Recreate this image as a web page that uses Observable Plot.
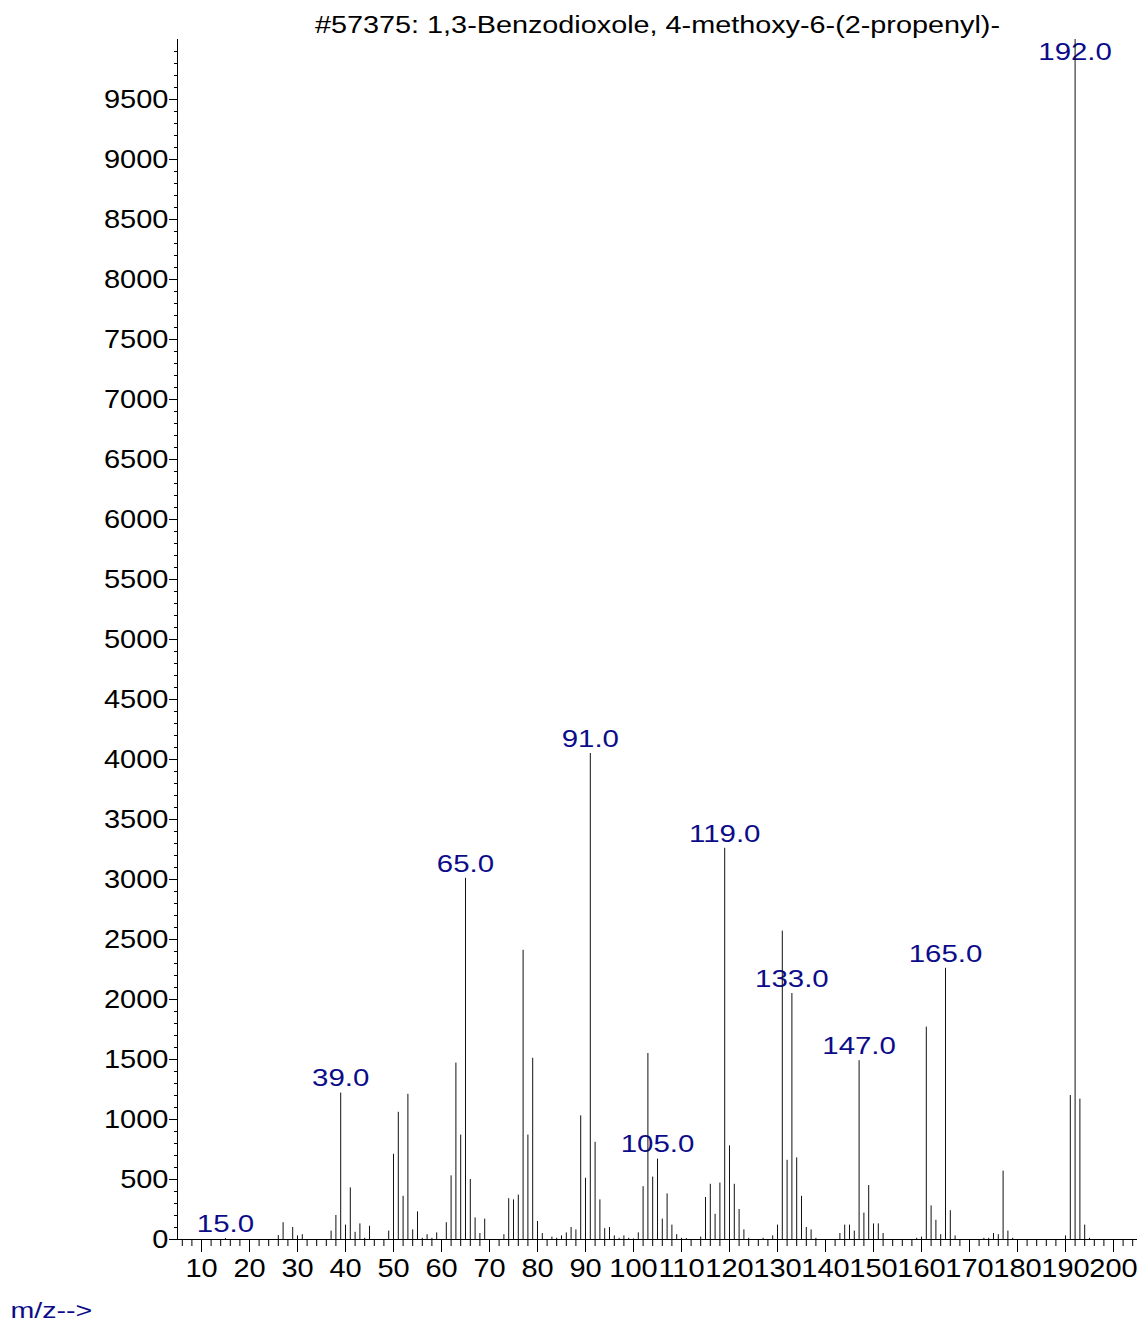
<!DOCTYPE html>
<html><head><meta charset="utf-8">
<script src="https://cdn.jsdelivr.net/npm/d3@7"></script>
<script src="https://cdn.jsdelivr.net/npm/@observablehq/plot@0.6"></script>
<style>body{margin:0;background:#fff}</style>
</head><body><div id="chart"></div>
<script>
const title = "#57375: 1,3-Benzodioxole, 4-methoxy-6-(2-propenyl)-";
const xLabel = "m/z-->";
const mzValues = [15,26,27,29,30,31,37,38,39,40,41,42,43,44,45,49,50,51,52,53,54,55,56,57,58,59,61,62,63,64,65,66,67,68,69,73,74,75,76,77,78,79,80,81,83,84,85,86,87,88,89,90,91,92,93,94,95,96,97,98,99,100,101,102,103,104,105,106,107,108,109,110,111,114,115,116,117,118,119,120,121,122,123,124,127,129,130,131,132,133,134,135,136,137,138,143,144,145,146,147,148,149,150,151,152,159,160,161,162,163,164,165,166,167,173,174,175,176,177,178,179,190,191,192,193,194,195];
const abundances = [8,33,140,100,30,40,70,200,1220,120,430,60,130,10,110,70,710,1060,360,1210,80,230,10,40,10,55,140,530,1470,870,3010,500,180,50,170,40,340,330,370,2410,870,1510,150,50,20,10,30,55,100,80,1030,510,4050,810,330,90,100,30,10,30,10,5,55,440,1550,520,670,170,380,120,40,10,8,20,350,460,210,470,3260,780,460,250,80,10,10,30,120,2570,660,2050,680,360,100,80,10,50,120,120,70,1490,220,450,130,130,50,10,20,1770,280,160,40,2260,240,30,10,10,50,40,570,70,10,30,1200,10000,1170,120,10];
const labeledMz = [15,39,65,91,105,119,133,147,165,192];
const xMajorTicks = [10,20,30,40,50,60,70,80,90,100,110,120,130,140,150,160,170,180,190,200];
const xMinorTicks = d3.range(6, 205, 2);
const yMajorTicks = [0,500,1000,1500,2000,2500,3000,3500,4000,4500,5000,5500,6000,6500,7000,7500,8000,8500,9000,9500];
const yMinorTicks = d3.range(0, 10000, 100);

const peaks = mzValues.map((m, i) => ({mz: m, abundance: abundances[i]}));
const labelled = peaks.filter(d => labeledMz.includes(d.mz));
const navy = "#0c0c8a";

const chart = Plot.plot({
  width: 1143, height: 1324,
  marginTop: 39, marginBottom: 85, marginLeft: 177, marginRight: 6,
  style: {fontFamily: "'Liberation Sans', Arial, sans-serif", fontSize: "24px", background: "#fff", color: "#000"},
  x: {domain: [5, 205]},
  y: {domain: [0, 10000]},
  marks: [
    Plot.axisX({ticks: xMinorTicks, tickSize: 7, tickFormat: () => "", label: null}),
    Plot.axisX({ticks: xMajorTicks, tickSize: 13, tickPadding: 7, tickFormat: d => String(d), label: null, fontSize: 25, fill: "#000"}),
    Plot.axisY({ticks: yMinorTicks, tickSize: 3, tickFormat: () => "", label: null}),
    Plot.axisY({ticks: yMajorTicks, tickSize: 8, tickPadding: 1, tickFormat: d => String(d), label: null, fontSize: 25, fill: "#000"}),
    Plot.ruleX([5], {stroke: "#000"}),
    Plot.ruleY([0], {stroke: "#000"}),
    Plot.text(labelled, {x: "mz", y: d => Math.min(d.abundance, 9770), text: d => d.mz.toFixed(1), dy: -14, lineAnchor: "middle", fill: navy, fontSize: 23, ariaLabel: () => "peak label"}),
    Plot.ruleX(peaks, {x: "mz", y1: 0, y2: "abundance", stroke: "#111", strokeWidth: 1}),
    Plot.text([title], {text: d => d, frameAnchor: "top", dy: -14, lineAnchor: "middle", fontSize: 24, fill: "#000", ariaLabel: () => "title"}),
    Plot.text([xLabel], {text: d => d, frameAnchor: "bottom-left", dx: -167, dy: 71, textAnchor: "start", lineAnchor: "middle", fontSize: 22, fill: navy, ariaLabel: () => "x label"})
  ]
});
document.getElementById("chart").appendChild(chart);

// the reference's lettering is horizontally wide: stretch each label about its anchor
const stretchFor = {"peak label": 1.28, "x label": 1.3, "title": 1.2};
chart.querySelectorAll("text").forEach(t => {
  const own = t.closest("[aria-label]");
  const k = (own && stretchFor[own.getAttribute("aria-label")]) || 1.16;
  const xa = t.getAttribute("x");
  let x = 0;
  if (xa !== null && !isNaN(+xa)) { x = +xa; t.removeAttribute("x"); }
  const tr = t.getAttribute("transform") || "";
  t.setAttribute("transform", `${tr} translate(${x},0) scale(${k},1)`);
});
</script>
</body></html>
